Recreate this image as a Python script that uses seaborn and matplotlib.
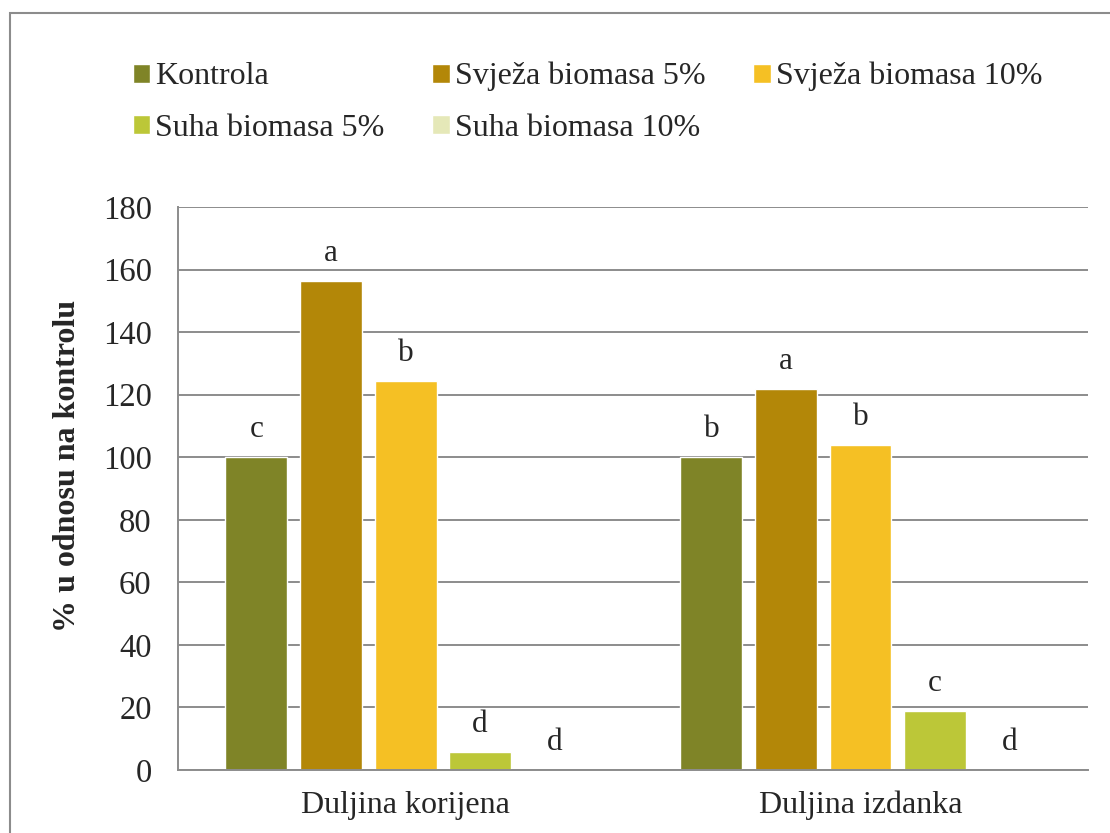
import pandas as pd
import matplotlib.pyplot as plt
import seaborn as sns
from matplotlib.patches import Rectangle

# --- podaci ---
kategorije = ['Duljina korijena', 'Duljina izdanka']
tretmani = ['Kontrola', 'Svježa biomasa 5%', 'Svježa biomasa 10%',
            'Suha biomasa 5%', 'Suha biomasa 10%']
vrijednosti = {
    'Kontrola': [100, 100],
    'Svježa biomasa 5%': [156.4, 121.8],
    'Svježa biomasa 10%': [124.4, 103.9],
    'Suha biomasa 5%': [5.8, 18.9],
    'Suha biomasa 10%': [0, 0],
}
slova = {
    'Kontrola': ['c', 'b'],
    'Svježa biomasa 5%': ['a', 'a'],
    'Svježa biomasa 10%': ['b', 'b'],
    'Suha biomasa 5%': ['d', 'c'],
    'Suha biomasa 10%': ['d', 'd'],
}
boje = ['#7F8427', '#B38708', '#F5C024', '#BCC738', '#E5E8B8']

redovi = []
for t in tretmani:
    for k, v in zip(kategorije, vrijednosti[t]):
        redovi.append({'kategorija': k, 'tretman': t, 'vrijednost': v})
df = pd.DataFrame(redovi)

sns.set_style('white')
plt.rcParams['font.family'] = ['Liberation Serif', 'DejaVu Serif']

fig = plt.figure(figsize=(11.1, 8.33), dpi=100)
ax = fig.add_axes([0.1604, 0.0756, 0.8198, 0.6759])

sns.barplot(data=df, x='kategorija', y='vrijednost', hue='tretman',
            order=kategorije, hue_order=tretmani, palette=boje,
            width=0.82, gap=0.17, saturation=1, errorbar=None, ax=ax)

# slova iznad stupaca
for cont, t in zip(ax.containers, tretmani):
    for bar, s in zip(cont, slova[t]):
        ax.annotate(s, (bar.get_x() + bar.get_width() / 2, bar.get_height()),
                    xytext=(0, 20), textcoords='offset points',
                    ha='center', va='center', fontsize=22.5)

siva = '#8C8C8C'
ax.set_ylim(0, 180)
ax.set_yticks(range(0, 181, 20))
ax.set_xlim(-0.5, 1.5)
ax.yaxis.grid(True, color=siva, linewidth=1.4)
ax.set_axisbelow(True)
for s in ['top', 'right']:
    ax.spines[s].set_visible(False)
for s in ['left', 'bottom']:
    ax.spines[s].set_color(siva)
    ax.spines[s].set_linewidth(1.4)

ax.tick_params(axis='y', length=6, width=1.4, color=siva, pad=13, labelsize=23.5)
ax.tick_params(axis='x', which='major', length=0, pad=15, labelsize=23)
ax.set_xticks([-0.5, 0.5, 1.5], minor=True)
ax.tick_params(axis='x', which='minor', length=7, width=1.4, color=siva, direction='out')

ax.set_xlabel('')
ax.set_ylabel('% u odnosu na kontrolu', fontsize=23, fontweight='bold')
ax.yaxis.set_label_coords(-0.105, 0.54)

# legenda (redoslijed za popunjavanje po stupcima)
handles, labels = ax.get_legend_handles_labels()
ax.get_legend().remove()
red = [0, 3, 1, 4, 2]
fig.legend([handles[i] for i in red], [labels[i] for i in red],
           loc='upper left', bbox_to_anchor=(0.108, 0.941), ncol=3,
           frameon=False, fontsize=23, handlelength=0.55, handleheight=0.55,
           handletextpad=0.15, columnspacing=1.5, labelspacing=0.7,
           borderaxespad=0)

# okvir oko grafikona
fig.patches.append(Rectangle((0.009, -0.1), 1.2, 1.0844, transform=fig.transFigure,
                             fill=False, edgecolor='#8C8C8C', linewidth=1.5))

plt.savefig('out.png', dpi=100)
